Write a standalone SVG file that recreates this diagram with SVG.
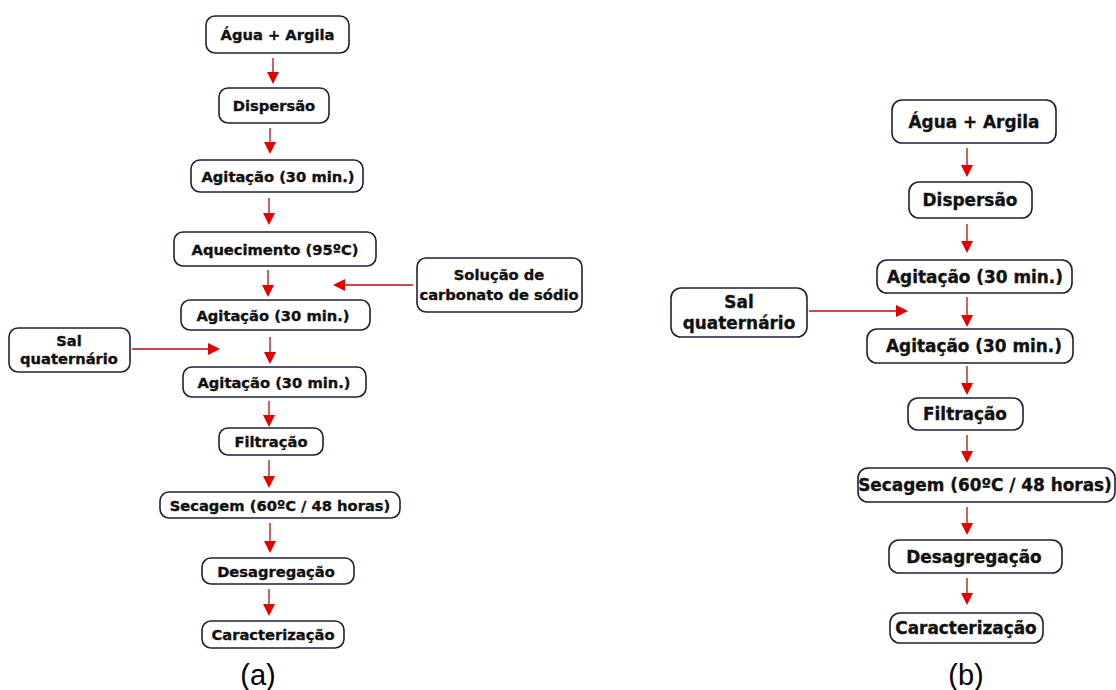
<svg xmlns="http://www.w3.org/2000/svg" width="1116" height="690" viewBox="0 0 1116 690">
<style>
.box{fill:#fff;stroke:#1e1e3c;stroke-width:1.6}
.t{font-family:"DejaVu Sans",Verdana,sans-serif;font-weight:bold;fill:#111;stroke:#111;stroke-width:0.35;text-anchor:middle}
.a{font-size:14.7px}
.b{font-size:16.9px}
.cap{font-family:"Liberation Sans",Arial,sans-serif;font-size:29px;fill:#000;text-anchor:middle}
.ln{stroke:#b01010;stroke-width:1.3;fill:none}
.hd{fill:#e40000}
</style>
<rect width="1116" height="690" fill="#fff"/>
<g id="connectors">
<path class="ln" d="M273 58V74"/><path class="hd" d="M267 72H279L273 84Z"/>
<path class="ln" d="M270 128V144"/><path class="hd" d="M264 142H276L270 154Z"/>
<path class="ln" d="M269 198V215"/><path class="hd" d="M263 213H275L269 225Z"/>
<path class="ln" d="M268 270V287"/><path class="hd" d="M262 285H274L268 297Z"/>
<path class="ln" d="M270 337V354"/><path class="hd" d="M264 352H276L270 364Z"/>
<path class="ln" d="M269 401V417"/><path class="hd" d="M263 415H275L269 427Z"/>
<path class="ln" d="M269 460V478"/><path class="hd" d="M263 476H275L269 488Z"/>
<path class="ln" d="M270 523V543"/><path class="hd" d="M264 541H276L270 553Z"/>
<path class="ln" d="M269 589V606"/><path class="hd" d="M263 604H275L269 616Z"/>
<path class="ln" d="M413 285H343"/><path class="hd" d="M345 279V291L333 285Z"/>
<path class="ln" d="M132 349H210"/><path class="hd" d="M208 343V355L220 349Z"/>
<path class="ln" d="M967 148V167"/><path class="hd" d="M961 165H973L967 177Z"/>
<path class="ln" d="M967 224V243"/><path class="hd" d="M961 241H973L967 253Z"/>
<path class="ln" d="M967 297V317"/><path class="hd" d="M961 315H973L967 327Z"/>
<path class="ln" d="M967 366V385"/><path class="hd" d="M961 383H973L967 395Z"/>
<path class="ln" d="M967 435V453"/><path class="hd" d="M961 451H973L967 463Z"/>
<path class="ln" d="M967 507V525"/><path class="hd" d="M961 523H973L967 535Z"/>
<path class="ln" d="M967 578V595"/><path class="hd" d="M961 593H973L967 605Z"/>
<path class="ln" d="M809 311H898"/><path class="hd" d="M896 305V317L908 311Z"/>
</g>
<g id="a1"><rect class="box" x="206" y="16" width="143" height="37" rx="9"/><text class="t a" x="277.5" y="40">Água + Argila</text></g>
<g id="a2"><rect class="box" x="219" y="88" width="110" height="35" rx="9"/><text class="t a" x="274" y="110.5">Dispersão</text></g>
<g id="a3"><rect class="box" x="191" y="160" width="172" height="32" rx="9"/><text class="t a" x="278" y="181.5">Agitação (30 min.)</text></g>
<g id="a4"><rect class="box" x="174" y="232" width="202" height="34" rx="9"/><text class="t a" x="275" y="254.5">Aquecimento (95ºC)</text></g>
<g id="a5"><rect class="box" x="181" y="300" width="189" height="30" rx="9"/><text class="t a" x="273" y="320.5">Agitação (30 min.)</text></g>
<g id="a6"><rect class="box" x="183" y="367" width="183" height="30" rx="9"/><text class="t a" x="274" y="387.5">Agitação (30 min.)</text></g>
<g id="a7"><rect class="box" x="219" y="428" width="104" height="27" rx="9"/><text class="t a" x="271" y="446.5">Filtração</text></g>
<g id="a8"><rect class="box" x="160" y="492" width="240" height="26" rx="9"/><text class="t a" x="280" y="510.5">Secagem (60ºC / 48 horas)</text></g>
<g id="a9"><rect class="box" x="202" y="558" width="152" height="26" rx="9"/><text class="t a" x="276" y="576.5">Desagregação</text></g>
<g id="a10"><rect class="box" x="202" y="621" width="142" height="27" rx="9"/><text class="t a" x="273" y="639.5">Caracterização</text></g>
<g id="aSol"><rect class="box" x="417" y="258" width="165" height="54" rx="9"/><text class="t a" x="499" y="280">Solução de</text><text class="t a" x="499" y="300">carbonato de sódio</text></g>
<g id="aSal"><rect class="box" x="9" y="328" width="121" height="44" rx="9"/><text class="t a" x="69" y="346">Sal</text><text class="t a" x="69" y="364">quaternário</text></g>
<text class="cap" x="258" y="685">(a)</text>
<g id="b1"><rect class="box" x="892" y="100" width="164" height="43" rx="10"/><text class="t b" x="974" y="127.5">Água + Argila</text></g>
<g id="b2"><rect class="box" x="909" y="182" width="123" height="36" rx="10"/><text class="t b" x="970" y="206">Dispersão</text></g>
<g id="b3"><rect class="box" x="877" y="260" width="195" height="33" rx="10"/><text class="t b" x="975" y="282.5">Agitação (30 min.)</text></g>
<g id="b4"><rect class="box" x="867" y="329" width="206" height="34" rx="10"/><text class="t b" x="974" y="352">Agitação (30 min.)</text></g>
<g id="b5"><rect class="box" x="908" y="398" width="115" height="32" rx="10"/><text class="t b" x="965" y="420">Filtração</text></g>
<g id="b6"><rect class="box" x="858" y="468" width="257" height="34" rx="10"/><text class="t b" x="985" y="491">Secagem (60ºC / 48 horas)</text></g>
<g id="b7"><rect class="box" x="889" y="540" width="173" height="33" rx="10"/><text class="t b" x="974" y="562.5">Desagregação</text></g>
<g id="b8"><rect class="box" x="890" y="613" width="153" height="30" rx="10"/><text class="t b" x="966" y="634">Caracterização</text></g>
<g id="bSal"><rect class="box" x="671" y="288" width="136" height="49" rx="10"/><text class="t b" x="739" y="308">Sal</text><text class="t b" x="739" y="329">quaternário</text></g>
<text class="cap" x="966" y="685">(b)</text>
</svg>
